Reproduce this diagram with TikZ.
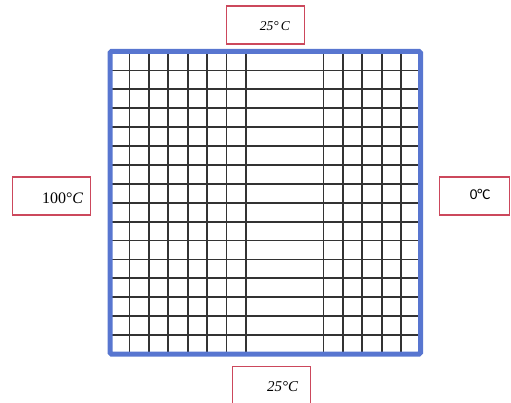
\documentclass[tikz,border=0pt]{standalone}
\usepackage{fontspec}
\setmainfont{Liberation Serif}
\newfontfamily\calibrifont{Carlito}
\usetikzlibrary{positioning}
\definecolor{plateblue}{RGB}{88,118,208}
\definecolor{boxred}{RGB}{204,72,92}
\tikzset{
  tempbox/.style={rectangle,draw=boxred,line width=1.5pt,minimum width=78pt,minimum height=38pt,inner sep=0pt},
  templabel/.style={inner sep=0pt,anchor=base east},
  gridline/.style={black!80,line width=1.8pt}
}

\begin{document}
\begin{tikzpicture}[x=1pt,y=1pt]
\useasboundingbox (0,0) rectangle (511,402);
% plate
\coordinate (sw) at (110,48);
\coordinate (ne) at (420.5,350.5);
% mesh, 16 x 16 cells, columns 8 to 10 left open
\foreach \i in {1,...,7,11,12,13,14,15}
  \draw[gridline] (110+\i*19.406,48) -- (110+\i*19.406,350.5);
\foreach \j in {1,...,15}
  \draw[gridline] (110,48+\j*18.906) -- (420.5,48+\j*18.906);
\draw[plateblue,line width=5pt,rounded corners=1.5pt] (sw) rectangle (ne);
%
\node (topbox) [tempbox] at (265.5,377) {};
\node (leftbox) [tempbox] at (51.7,206.2) {};
\node (rightbox) [tempbox,minimum width=70pt] at (474.4,206.2) {};
\node (bottombox) [tempbox] at (271.7,16.3) {};
%
\node (toplabel) [templabel,font=\fontsize{13.5}{16}\selectfont] at ([xshift=-15pt,yshift=-6pt]topbox.east) {\textit{25°\,C}};
\node (leftlabel) [templabel,font=\fontsize{16}{18}\selectfont] at ([xshift=-8pt,yshift=-8pt]leftbox.east) {100°\textit{C}};
\node (rightlabel) [templabel,font=\calibrifont\fontsize{15}{17}\selectfont] at ([xshift=-19.5pt,yshift=-4pt]rightbox.east) {0°C};
\node (bottomlabel) [templabel,font=\fontsize{15}{17}\selectfont] at ([xshift=-13pt,yshift=-6pt]bottombox.east) {\textit{25°C}};
\end{tikzpicture}
\end{document}
